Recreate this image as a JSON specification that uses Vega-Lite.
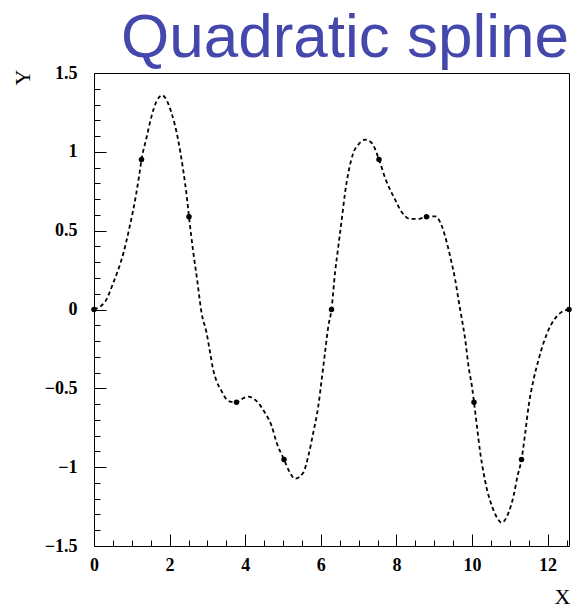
{
  "$schema": "https://vega.github.io/schema/vega-lite/v6.json",
  "autosize": {"type": "none"},
  "padding": {"left": 94, "top": 73, "right": 9, "bottom": 64},
  "width": 475,
  "height": 473,
  "background": "white",
  "title": {
    "text": "Quadratic spline",
    "anchor": "end",
    "frame": "group",
    "font": "Liberation Sans",
    "fontSize": 62,
    "fontWeight": "normal",
    "color": "#4447ab",
    "baseline": "alphabetic",
    "offset": 6,
    "dy": 61
  },
  "config": {
    "view": {"stroke": "black", "strokeWidth": 1},
    "axis": {
      "grid": false,
      "domain": false,
      "tickColor": "black",
      "tickWidth": 1,
      "labelFont": "Liberation Serif",
      "labelFontWeight": "bold",
      "labelFontSize": 18,
      "labelColor": "black",
      "titleFont": "Liberation Serif",
      "titleFontWeight": "normal",
      "titleFontSize": 22,
      "titleColor": "black"
    }
  },
  "datasets": {
    "curve": [
      {"x": 0, "y": 0},
      {"x": 0.302, "y": 0.053},
      {"x": 0.503, "y": 0.165},
      {"x": 0.768, "y": 0.349},
      {"x": 0.946, "y": 0.528},
      {"x": 1.105, "y": 0.718},
      {"x": 1.192, "y": 0.845},
      {"x": 1.257, "y": 0.951},
      {"x": 1.388, "y": 1.088},
      {"x": 1.521, "y": 1.225},
      {"x": 1.653, "y": 1.32},
      {"x": 1.801, "y": 1.358},
      {"x": 2.05, "y": 1.247},
      {"x": 2.225, "y": 1.077},
      {"x": 2.358, "y": 0.887},
      {"x": 2.464, "y": 0.697},
      {"x": 2.513, "y": 0.588},
      {"x": 2.623, "y": 0.369},
      {"x": 2.728, "y": 0.19},
      {"x": 2.845, "y": -0.021},
      {"x": 2.978, "y": -0.148},
      {"x": 3.065, "y": -0.264},
      {"x": 3.152, "y": -0.38},
      {"x": 3.242, "y": -0.454},
      {"x": 3.375, "y": -0.518},
      {"x": 3.507, "y": -0.57},
      {"x": 3.64, "y": -0.586},
      {"x": 3.77, "y": -0.588},
      {"x": 3.93, "y": -0.565},
      {"x": 4.079, "y": -0.553},
      {"x": 4.302, "y": -0.581},
      {"x": 4.522, "y": -0.655},
      {"x": 4.699, "y": -0.739},
      {"x": 4.832, "y": -0.845},
      {"x": 5.027, "y": -0.951},
      {"x": 5.184, "y": -1.035},
      {"x": 5.317, "y": -1.073},
      {"x": 5.536, "y": -1.035},
      {"x": 5.669, "y": -0.93},
      {"x": 5.801, "y": -0.781},
      {"x": 5.934, "y": -0.613},
      {"x": 6.024, "y": -0.444},
      {"x": 6.111, "y": -0.274},
      {"x": 6.199, "y": -0.106},
      {"x": 6.283, "y": 0},
      {"x": 6.376, "y": 0.233},
      {"x": 6.464, "y": 0.401},
      {"x": 6.554, "y": 0.57},
      {"x": 6.641, "y": 0.74},
      {"x": 6.728, "y": 0.866},
      {"x": 6.861, "y": 0.993},
      {"x": 6.993, "y": 1.046},
      {"x": 7.171, "y": 1.077},
      {"x": 7.348, "y": 1.056},
      {"x": 7.54, "y": 0.951},
      {"x": 7.701, "y": 0.835},
      {"x": 7.833, "y": 0.76},
      {"x": 7.965, "y": 0.697},
      {"x": 8.098, "y": 0.634},
      {"x": 8.363, "y": 0.575},
      {"x": 8.583, "y": 0.575},
      {"x": 8.796, "y": 0.588},
      {"x": 9.025, "y": 0.591},
      {"x": 9.203, "y": 0.528},
      {"x": 9.335, "y": 0.423},
      {"x": 9.441, "y": 0.317},
      {"x": 9.555, "y": 0.19},
      {"x": 9.642, "y": 0.063},
      {"x": 9.733, "y": -0.063},
      {"x": 9.82, "y": -0.19},
      {"x": 9.907, "y": -0.359},
      {"x": 9.997, "y": -0.486},
      {"x": 10.053, "y": -0.588},
      {"x": 10.13, "y": -0.74},
      {"x": 10.217, "y": -0.908},
      {"x": 10.305, "y": -1.035},
      {"x": 10.395, "y": -1.141},
      {"x": 10.527, "y": -1.247},
      {"x": 10.66, "y": -1.32},
      {"x": 10.785, "y": -1.352},
      {"x": 10.967, "y": -1.288},
      {"x": 11.099, "y": -1.183},
      {"x": 11.205, "y": -1.056},
      {"x": 11.31, "y": -0.951},
      {"x": 11.409, "y": -0.781},
      {"x": 11.497, "y": -0.613},
      {"x": 11.629, "y": -0.444},
      {"x": 11.762, "y": -0.317},
      {"x": 11.894, "y": -0.211},
      {"x": 12.071, "y": -0.106},
      {"x": 12.249, "y": -0.042},
      {"x": 12.4, "y": -0.012},
      {"x": 12.566, "y": 0}
    ],
    "knots": [
      {"x": 0, "y": 0},
      {"x": 1.257, "y": 0.951},
      {"x": 2.513, "y": 0.588},
      {"x": 3.77, "y": -0.588},
      {"x": 5.027, "y": -0.951},
      {"x": 6.283, "y": 0},
      {"x": 7.54, "y": 0.951},
      {"x": 8.796, "y": 0.588},
      {"x": 10.053, "y": -0.588},
      {"x": 11.31, "y": -0.951},
      {"x": 12.566, "y": 0}
    ]
  },
  "resolve": {"axis": {"x": "independent", "y": "independent"}},
  "layer": [
    {
      "data": {"name": "curve"},
      "mark": {"type": "line", "interpolate": "monotone", "color": "black", "strokeWidth": 1.8, "strokeDash": [4, 3], "clip": true},
      "encoding": {
        "x": {
          "field": "x", "type": "quantitative",
          "scale": {"domain": [0, 12.566], "nice": false, "zero": false},
          "axis": {
            "orient": "bottom",
            "values": [0, 2, 4, 6, 8, 10, 12],
            "tickSize": -12,
            "labelPadding": 22,
            "labelFlush": false,
            "title": "X",
            "titleAnchor": "end",
            "titleX": 468,
            "titleY": 50,
            "titleBaseline": "middle",
            "titleAlign": "center"
          }
        },
        "y": {
          "field": "y", "type": "quantitative",
          "scale": {"domain": [-1.5, 1.5], "nice": false, "zero": false},
          "axis": {
            "orient": "left",
            "values": [-1.5, -1, -0.5, 0, 0.5, 1, 1.5],
            "tickSize": -12,
            "labelPadding": 29,
            "labelFlush": false,
            "format": "~g",
            "title": "Y",
            "titleAngle": -90,
            "titleX": -72,
            "titleY": 4,
            "titleBaseline": "middle",
            "titleAlign": "center"
          }
        }
      }
    },
    {
      "data": {"name": "knots"},
      "mark": {"type": "point", "filled": true, "color": "black", "size": 30, "opacity": 1},
      "encoding": {
        "x": {
          "field": "x", "type": "quantitative",
          "axis": {
            "orient": "bottom",
            "values": [0.5, 1, 1.5, 2.5, 3, 3.5, 4.5, 5, 5.5, 6.5, 7, 7.5, 8.5, 9, 9.5, 10.5, 11, 11.5, 12.5],
            "tickSize": -6,
            "labels": false,
            "title": null
          }
        },
        "y": {
          "field": "y", "type": "quantitative",
          "axis": {
            "orient": "left",
            "values": [-1.4, -1.3, -1.2, -1.1, -0.9, -0.8, -0.7, -0.6, -0.4, -0.3, -0.2, -0.1, 0.1, 0.2, 0.3, 0.4, 0.6, 0.7, 0.8, 0.9, 1.1, 1.2, 1.3, 1.4],
            "tickSize": -6,
            "labels": false,
            "title": null
          }
        }
      }
    }
  ]
}
